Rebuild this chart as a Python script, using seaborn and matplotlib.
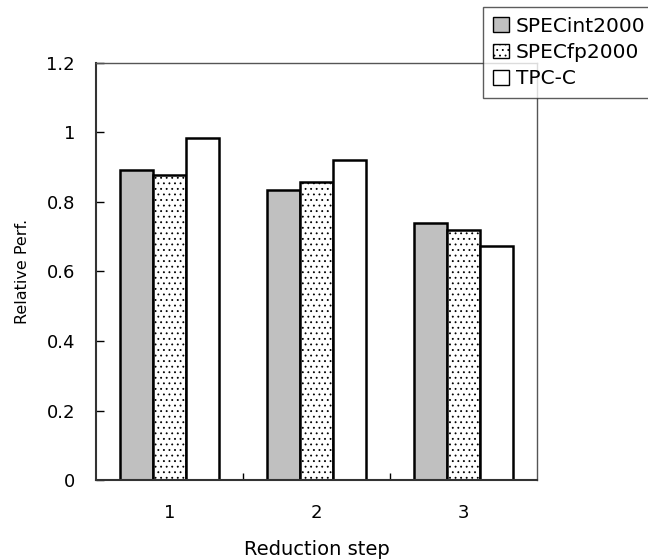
import matplotlib
matplotlib.use('Agg')
import matplotlib.pyplot as plt
import seaborn as sns
import pandas as pd
from matplotlib.patches import Patch

steps = ['1', '2', '3']
series = ['SPECint2000', 'SPECfp2000', 'TPC-C']
spec_int = [0.892, 0.835, 0.740]
spec_fp = [0.878, 0.856, 0.719]
tpc_c = [0.983, 0.921, 0.674]

df = pd.DataFrame({
    'step': steps * 3,
    'bench': [s for s in series for _ in steps],
    'perf': spec_int + spec_fp + tpc_c,
})

sns.set_style('white')
plt.rcParams['font.family'] = ['DejaVu Sans']
plt.rcParams['text.color'] = 'black'
plt.rcParams['axes.labelcolor'] = 'black'
plt.rcParams['xtick.color'] = 'black'
plt.rcParams['ytick.color'] = 'black'
plt.rcParams['hatch.color'] = '#555555'
plt.rcParams['hatch.linewidth'] = 0.6

fig = plt.figure(figsize=(6.48, 5.59), dpi=100)
ax = fig.add_axes([0.148, 0.141, 0.681, 0.747])

faces = {'SPECint2000': '#c0c0c0', 'SPECfp2000': 'white', 'TPC-C': 'white'}
hatches = {'SPECint2000': '', 'SPECfp2000': '...', 'TPC-C': ''}

sns.barplot(data=df, x='step', y='perf', hue='bench', order=steps, hue_order=series,
            palette=faces, width=0.67, edgecolor='black', linewidth=1.8,
            legend=False, ax=ax)
for cont, name in zip(ax.containers, series):
    for bar in cont:
        bar.set_hatch(hatches[name])

ax.set_ylim(0, 1.2)
ax.set_xlim(-0.5, 2.5)
ax.set_yticks([0, 0.2, 0.4, 0.6, 0.8, 1, 1.2])
ax.set_yticklabels(['0', '0.2', '0.4', '0.6', '0.8', '1', '1.2'])
ax.set_xticks([0.5, 1.5], minor=True)
ax.tick_params(axis='y', direction='in', length=6, width=1, labelsize=13, pad=15, left=True)
ax.tick_params(axis='x', which='major', length=0, labelsize=13, pad=17)
ax.tick_params(axis='x', which='minor', direction='in', length=5, width=1, bottom=True)
for side in ['left', 'bottom']:
    ax.spines[side].set_linewidth(1.5)
    ax.spines[side].set_color('#333333')
for side in ['top', 'right']:
    ax.spines[side].set_linewidth(1)
    ax.spines[side].set_color('#555555')

ax.set_xlabel('Reduction step', fontsize=14, labelpad=13)
ax.set_ylabel('Relative Perf.', fontsize=11.5, labelpad=12)

handles = [Patch(facecolor=faces[s], edgecolor='black', hatch=hatches[s], label=s) for s in series]
leg = fig.legend(handles=handles, loc='upper left', bbox_to_anchor=(0.746, 0.988),
                 frameon=True, fancybox=False, fontsize=14.5, handlelength=0.75,
                 handleheight=0.75, handletextpad=0.35, borderpad=0.5, labelspacing=0.36,
                 borderaxespad=0)
leg.get_frame().set_edgecolor('#333333')
leg.get_frame().set_linewidth(1)

fig.savefig('out.png', dpi=100)
